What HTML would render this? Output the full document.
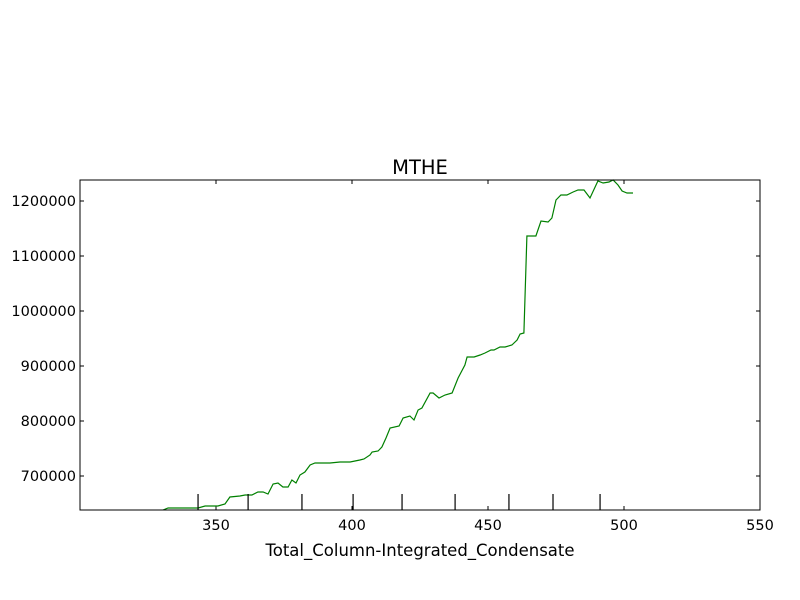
<!DOCTYPE html>
<html><head><meta charset="utf-8"><style>
body{margin:0;background:#fff;}
svg{display:block;font-family:"DejaVu Sans","Liberation Sans",sans-serif;}
</style></head><body>
<svg id="chart" width="800" height="600">
<rect width="800" height="600" fill="#fff"/>
<text x="420" y="174" font-size="19.5" text-anchor="middle">MTHE</text>
<text x="420" y="556" font-size="16.5" text-anchor="middle">Total_Column-Integrated_Condensate</text>
<g id="ticks"></g>
<path id="series" fill="none" stroke="#008000" stroke-width="1.2"/>
<g id="marks"></g>
<rect x="80" y="180" width="680" height="330" fill="none" stroke="#000" stroke-width="1"/>
</svg>
<script>
const xs=[330.5,332.4,336.0,343.4,346.0,350.7,353.3,355.1,358.8,360.7,363.2,365.4,367.3,369.1,371.0,372.8,374.6,376.5,377.9,379.4,380.9,382.7,384.6,386.4,388.2,391.9,395.6,399.3,401.1,402.9,404.4,406.6,407.4,409.6,411.0,412.5,414.0,417.3,418.8,421.3,422.8,424.3,425.7,428.7,429.8,432.0,434.2,436.8,439.0,441.5,442.3,444.9,447.1,448.9,451.1,452.2,454.4,456.3,458.8,460.7,461.8,463.2,464.3,467.6,469.5,472.1,473.5,475.0,476.8,479.0,481.3,483.1,485.3,487.5,490.4,492.3,494.5,496.0,497.8,499.3,501.1,503.3];
const ys=[638200,641800,641800,641800,645500,645500,649100,661800,663600,665500,665500,670900,670900,667300,685500,687300,680000,680000,692700,687300,701800,707300,720000,723600,723600,723600,725500,725500,727300,729100,730900,738200,743600,745500,752700,769100,787300,790900,805500,809100,801800,820000,823600,850900,850900,841800,847300,850900,878200,901800,916400,916400,920000,923600,929100,929100,934500,934500,938200,947300,958200,960000,1136400,1136400,1163600,1161800,1169100,1201800,1210900,1210900,1216400,1220000,1220000,1205500,1236400,1232700,1234500,1238200,1229100,1218200,1214500,1214500];
const xTicks=[350,400,450,500,550];
const yTicks=[700000,800000,900000,1000000,1100000,1200000];
const markX=[343.4,361.8,381.6,400.4,418.4,437.9,457.7,473.9,491.2];
const X0=80,X1=760,Y0=510,Y1=180,xmin=300,xmax=550,ymin=638200,ymax=1238200;
const sx=v=>X0+(v-xmin)/(xmax-xmin)*(X1-X0);
const sy=v=>Y0-(v-ymin)/(ymax-ymin)*(Y0-Y1);
const NS="http://www.w3.org/2000/svg";
const tg=document.getElementById('ticks');
function mk(tag,at,parent){const e=document.createElementNS(NS,tag);for(const k in at)e.setAttribute(k,at[k]);parent.appendChild(e);return e;}
xTicks.forEach(v=>{const x=sx(v);
 const a=mk('line',{x1:x,x2:x,y1:Y0,y2:Y0-4,stroke:'#000'},tg);
 
 
 const b=mk('line',{x1:x,x2:x,y1:Y1,y2:Y1+4,stroke:'#000'},tg);
 
 
 const t=mk('text',{x:x,y:Y0+20,'font-size':14.5,'text-anchor':'middle'},tg);t.textContent=v;
 
 
});
yTicks.forEach(v=>{const y=sy(v);
 const a=mk('line',{x1:X0,x2:X0+4,y1:y,y2:y,stroke:'#000'},tg);
 
 
 const b=mk('line',{x1:X1,x2:X1-4,y1:y,y2:y,stroke:'#000'},tg);
 
 
 const t=mk('text',{x:X0-4,y:y+5,'font-size':14.5,'text-anchor':'end'},tg);t.textContent=v;
 
 
});
const mg=document.getElementById('marks');
markX.forEach(v=>{const x=sx(v);
 const l=mk('line',{x1:x,x2:x,y1:Y0,y2:Y0-16,stroke:'#000','stroke-width':1.2},mg);
 
 
});
document.getElementById('series').setAttribute('d',xs.map((v,i)=>(i?'L':'M')+sx(v).toFixed(1)+','+sy(ys[i]).toFixed(1)).join(''));
</script>
</body></html>
